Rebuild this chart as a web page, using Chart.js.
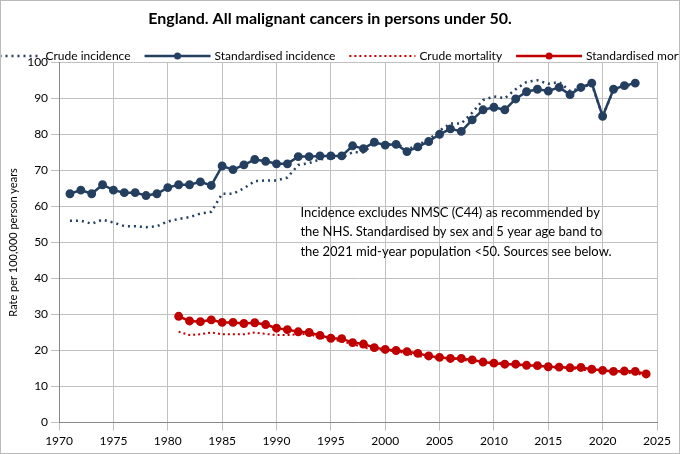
<!DOCTYPE html>
<html><head><meta charset="utf-8">
<script src="https://cdn.jsdelivr.net/npm/chart.js@4"></script>
<style>html,body{margin:0;padding:0;background:#fff}#w{width:678px;height:452px;border:1px solid #bbb}</style>
</head><body><div id="w"><canvas id="c"></canvas></div>
<script>
const incYears = []; for (let y = 1971; y <= 2023; y++) incYears.push(y);
const mortYears = []; for (let y = 1981; y <= 2024; y++) mortYears.push(y);
const stdIncidence = [63.5,64.5,63.5,66,64.5,63.8,63.8,63,63.5,65.2,66,66,66.8,65.8,71.2,70.2,71.5,73,72.5,71.8,71.8,73.8,73.8,74,74,74,76.8,76,77.8,77,77.2,75.2,76.5,78,80,81.5,80.8,84,86.8,87.5,86.8,89.8,91.8,92.5,92,93,91,93,94.2,85,92.5,93.5,94.2];
const crudeIncidence = [56,56,55.2,56.3,55.5,54.5,54.5,54.2,54.5,55.8,56.5,57,58,58.5,63.5,63.5,65,67,67.2,67.2,68,71.5,72,73,73.5,73.5,75,75,77.5,77,77.5,75.8,77,78.5,81,83,83,86,89.5,90.5,90,92.5,94.5,95,94,94.5,92,92.8,94,85,92.3,93.3,94];
const stdMortality = [29.5,28.2,28,28.5,27.8,27.8,27.5,27.7,27.2,26.2,25.8,25.2,25,24.2,23.4,23.3,22.2,21.8,20.8,20.3,20,19.7,19.2,18.5,18.1,17.8,17.8,17.4,16.8,16.5,16.2,16.2,15.9,15.8,15.5,15.4,15.2,15.3,14.8,14.5,14.2,14.3,14.2,13.5];
const crudeMortality = [25.2,24.3,24.5,25,24.5,24.5,24.5,25,24.6,24.3,24.3,24.5,24.6,23.5,23.2,22.5,21.8,20.8,20.4,20,19.8,19.2,18.5,18,17.8,17.9,17.5,17,16.8,16.7,16.5,16,15.8,15.5,15.3,15.2,15.2,14.7,14.4,14.1,14.2,14.1,13.4,13.4];
const noteLines = ["Incidence excludes NMSC (C44) as recommended by","the NHS. Standardised by sex and 5 year age band to","the 2021 mid-year population <50. Sources see below."];
const NAVY = '#243f60', RED = '#c00000';
const pts = (xs, ys) => ys.map((v, i) => ({x: xs[i], y: v}));
const extras = { id: 'extras', afterDraw(ch) {
  const c = ch.ctx, xs = ch.scales.x, ys = ch.scales.y;
  c.save(); c.font = '13px Lato'; c.fillStyle = '#000'; c.textBaseline = 'middle';
  noteLines.forEach((t, i) => c.fillText(t, xs.getPixelForValue(1992.2), ys.getPixelForValue(58.3 - i * 5.4)));
  // legend
  c.font = '12px Lato';
  const items = ch.data.datasets.map(d => ({d, w: 66 + 4 + c.measureText(d.label).width}));
  const gap = 14, total = items.reduce((s, it) => s + it.w, 0) + gap * (items.length - 1);
  let x = (ch.width - total) / 2; const y = 55;
  items.forEach(({d, w}) => {
    c.strokeStyle = d.borderColor; c.lineWidth = d.borderWidth; c.setLineDash(d.borderDash || []);
    c.beginPath(); c.moveTo(x, y); c.lineTo(x + 66, y); c.stroke(); c.setLineDash([]);
    if (d.pointRadius) { c.fillStyle = d.borderColor; c.beginPath(); c.arc(x + 33, y, 3.5, 0, 7); c.fill(); }
    c.fillStyle = '#000'; c.fillText(d.label, x + 70, y);
    x += w + gap;
  });
  c.restore(); } };
new Chart(document.getElementById('c'), {
  type: 'line',
  data: { datasets: [
    {label: 'Crude incidence', data: pts(incYears, crudeIncidence), borderColor: NAVY, borderWidth: 2.5, borderDash: [2, 4], pointRadius: 0},
    {label: 'Standardised incidence', data: pts(incYears, stdIncidence), borderColor: NAVY, backgroundColor: NAVY, borderWidth: 2.5, pointRadius: 3.2},
    {label: 'Crude mortality', data: pts(mortYears, crudeMortality), borderColor: RED, borderWidth: 2, borderDash: [2, 3], pointRadius: 0},
    {label: 'Standardised mortality', data: pts(mortYears, stdMortality), borderColor: RED, backgroundColor: RED, borderWidth: 2.5, pointRadius: 3.2}
  ]},
  options: {
    responsive: true, maintainAspectRatio: false, animation: false,
    layout: {padding: {right: 22, left: 2, bottom: 2}},
    plugins: {
      title: {display: true, text: 'England. All malignant cancers in persons under 50.', font: {family: 'Lato', size: 16, weight: 'bold'}, color: '#000', padding: {top: 8, bottom: 34}},
      legend: {display: false},
      tooltip: {enabled: false}
    },
    scales: {
      x: {type: 'linear', min: 1970, max: 2025, ticks: {stepSize: 5, color: '#000', font: {family: 'Lato', size: 12}, callback: v => String(v)}, grid: {color: '#c0c0c0'}, border: {color: '#888'}},
      y: {min: 0, max: 100, ticks: {stepSize: 10, color: '#000', font: {family: 'Lato', size: 12}}, grid: {color: '#c0c0c0'}, border: {color: '#888'},
        title: {display: true, text: 'Rate per 100,000 person years', color: '#000', font: {family: 'Lato', size: 11}}}
    }
  },
  plugins: [extras]
});
</script></body></html>
